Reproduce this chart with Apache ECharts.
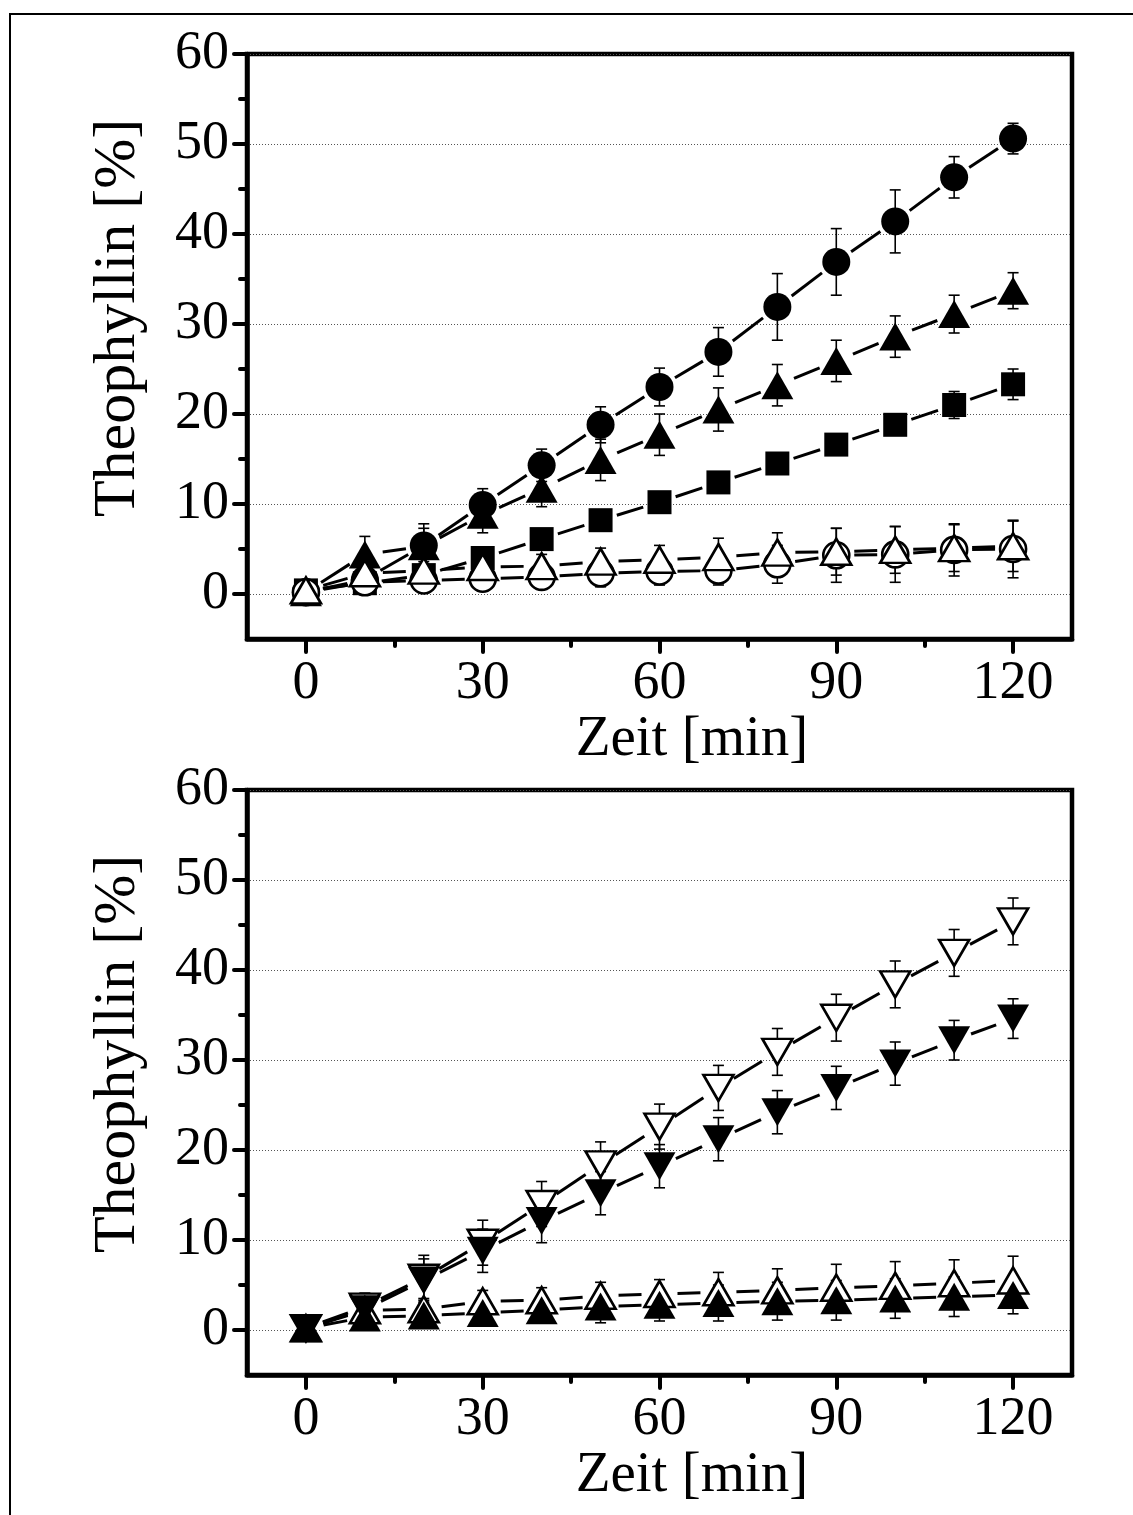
<!DOCTYPE html>
<html>
<head>
<meta charset="utf-8">
<script src="https://cdn.jsdelivr.net/npm/echarts@6/dist/echarts.min.js"></script>
<style>
html,body{margin:0;padding:0;background:#fff;}
#chart{width:1133px;height:1515px;}
</style>
</head>
<body>
<div id="chart"></div>
<script>
// ---------- data ----------
const minutes = [0, 10, 20, 30, 40, 50, 60, 70, 80, 90, 100, 110, 120];

// upper panel
const topCircleFilled      = [0.2, 1.6, 5.4, 9.9, 14.3, 18.8, 23.0, 26.9, 31.9, 36.9, 41.4, 46.3, 50.6];
const topCircleFilledErr   = [0.3, 1.0, 2.4, 1.8, 1.8, 2.0, 2.1, 2.7, 3.7, 3.7, 3.5, 2.3, 1.7];
const topTriangleFilled    = [0.2, 4.4, 5.3, 8.8, 11.7, 14.9, 17.7, 20.5, 23.2, 25.9, 28.6, 31.1, 33.7];
const topTriangleFilledErr = [0.3, 2.0, 2.0, 2.0, 2.0, 2.3, 2.3, 2.4, 2.3, 2.3, 2.3, 2.1, 2.0];
const topSquareFilled      = [0.4, 1.2, 2.1, 4.0, 6.1, 8.2, 10.2, 12.4, 14.5, 16.6, 18.8, 21.0, 23.3];
const topSquareFilledErr   = [0.3, 0.5, 0.5, 0.5, 0.5, 0.5, 0.5, 0.6, 0.7, 0.6, 0.8, 1.5, 1.7];
const topCircleOpen        = [0.2, 1.3, 1.5, 1.7, 1.9, 2.3, 2.5, 2.6, 3.3, 4.3, 4.4, 4.9, 5.0];
const topCircleOpenErr     = [0.5, 1.0, 1.0, 1.0, 1.2, 1.5, 1.5, 1.6, 2.1, 3.0, 3.1, 2.9, 3.2];
const topTriangleOpen      = [0.4, 2.3, 2.6, 3.0, 3.1, 3.6, 3.8, 4.1, 4.6, 4.7, 4.9, 5.1, 5.3];
const topTriangleOpenErr   = [0.5, 1.0, 1.0, 1.2, 1.3, 1.5, 1.6, 2.1, 2.2, 2.6, 2.6, 2.6, 2.8];

// lower panel
const botDownOpen        = [0.2, 2.6, 5.8, 9.7, 14.0, 18.4, 22.6, 26.9, 30.9, 34.7, 38.4, 41.9, 45.4];
const botDownOpenErr     = [0.3, 1.5, 2.5, 2.5, 2.5, 2.5, 2.5, 2.5, 2.6, 2.6, 2.6, 2.6, 2.6];
const botDownFilled      = [0.2, 2.3, 5.5, 8.8, 12.1, 15.2, 18.2, 21.2, 24.2, 26.9, 29.6, 32.2, 34.6];
const botDownFilledErr   = [0.3, 1.5, 2.4, 2.4, 2.4, 2.4, 2.4, 2.4, 2.4, 2.4, 2.4, 2.2, 2.2];
const botUpOpen          = [0.2, 2.2, 2.3, 3.2, 3.3, 3.8, 4.0, 4.2, 4.4, 4.7, 4.9, 5.2, 5.5];
const botUpOpenErr       = [0.3, 1.0, 1.2, 1.2, 1.4, 1.5, 1.6, 2.2, 2.4, 2.6, 2.7, 2.6, 2.7];
const botUpFilled        = [0.2, 1.4, 1.6, 1.9, 2.2, 2.6, 2.8, 3.0, 3.2, 3.3, 3.5, 3.7, 3.9];
const botUpFilledErr     = [0.3, 0.8, 1.0, 1.2, 1.4, 1.8, 1.8, 2.0, 2.1, 2.2, 2.2, 2.2, 2.1];

// axes / ticks
const xMajorTicks = [0, 30, 60, 90, 120];
const xMinorTicks = [15, 45, 75, 105];
const yMajorTicks = [0, 10, 20, 30, 40, 50, 60];
const yMinorTicks = [5, 15, 25, 35, 45, 55];
const xTitle = 'Zeit [min]';
const yTitle = 'Theophyllin [%]';

// ---------- chart ----------
const FONT = '"Liberation Serif", "Times New Roman", serif';
const chart = echarts.init(document.getElementById('chart'), null, {renderer: 'canvas'});

const grids = [
  {left: 247, top: 54, width: 825, height: 585},
  {left: 247, top: 790, width: 825, height: 585}
];

function mainX(gi) {
  return {
    type: 'value', gridIndex: gi, position: 'bottom', min: -10, max: 130, interval: 30,
    axisLine: {show: true, onZero: false, lineStyle: {color: '#000', width: 4.5}},
    axisTick: {show: true, inside: false, length: 13, customValues: xMajorTicks,
               lineStyle: {color: '#000', width: 4, cap: 'round'}},
    axisLabel: {show: true, customValues: xMajorTicks, margin: 18, color: '#000',
                fontSize: 54, fontFamily: FONT},
    splitLine: {show: false}
  };
}
function minorX(gi) {
  return {
    type: 'value', gridIndex: gi, position: 'bottom', min: -10, max: 130,
    axisLine: {show: false, onZero: false},
    axisTick: {show: true, inside: false, length: 7, customValues: xMinorTicks,
               lineStyle: {color: '#000', width: 4, cap: 'round'}},
    axisLabel: {show: false},
    splitLine: {show: false}
  };
}
function mainY(gi) {
  return {
    type: 'value', gridIndex: gi, position: 'left', min: -5, max: 60, interval: 10,
    axisLine: {show: true, onZero: false, lineStyle: {color: '#000', width: 4.5}},
    axisTick: {show: true, inside: false, length: 13, customValues: yMajorTicks,
               lineStyle: {color: '#000', width: 4, cap: 'round'}},
    axisLabel: {show: true, customValues: yMajorTicks, margin: 18, color: '#000',
                fontSize: 54, fontFamily: FONT},
    splitLine: {show: true, lineStyle: {color: '#555', width: 1, type: [1, 2]}}
  };
}
function minorY(gi) {
  return {
    type: 'value', gridIndex: gi, position: 'left', min: -5, max: 60,
    axisLine: {show: false, onZero: false},
    axisTick: {show: true, inside: false, length: 7, customValues: yMinorTicks,
               lineStyle: {color: '#000', width: 4, cap: 'round'}},
    axisLabel: {show: false},
    splitLine: {show: false}
  };
}

function segRender(gap) {
  return function (params, api) {
    const p0 = api.coord([api.value(0), api.value(1)]);
    const p1 = api.coord([api.value(2), api.value(3)]);
    const dx = p1[0] - p0[0], dy = p1[1] - p0[1];
    const L = Math.hypot(dx, dy);
    if (L <= 2 * gap + 1) return null;
    const ux = dx / L, uy = dy / L;
    return {
      type: 'line',
      shape: {x1: p0[0] + ux * gap, y1: p0[1] + uy * gap, x2: p1[0] - ux * gap, y2: p1[1] - uy * gap},
      style: {stroke: '#000', lineWidth: 3, lineCap: 'butt'}
    };
  };
}
function errRender(params, api) {
  const x = api.value(0), y = api.value(1), e = api.value(2);
  const t = api.coord([x, y + e]);
  const b = api.coord([x, y - e]);
  const cw = 5.5;
  const st = {stroke: '#000', lineWidth: 1.6};
  return {
    type: 'group',
    children: [
      {type: 'line', shape: {x1: t[0], y1: t[1], x2: b[0], y2: b[1]}, style: st},
      {type: 'line', shape: {x1: t[0] - cw, y1: t[1], x2: t[0] + cw, y2: t[1]}, style: st},
      {type: 'line', shape: {x1: b[0] - cw, y1: b[1], x2: b[0] + cw, y2: b[1]}, style: st}
    ]
  };
}

const series = [];
function addSet(gi, ys, errs, mk) {
  const ax = gi * 2;
  const segs = [];
  for (let i = 1; i < minutes.length; i++) segs.push([minutes[i - 1], ys[i - 1], minutes[i], ys[i]]);
  series.push({
    type: 'custom', xAxisIndex: ax, yAxisIndex: ax, renderItem: segRender(mk.gap),
    data: segs, encode: {x: [0, 2], y: [1, 3]}, silent: true, animation: false
  });
  series.push({
    type: 'scatter', xAxisIndex: ax, yAxisIndex: ax,
    data: minutes.map((m, i) => [m, ys[i]]),
    symbol: mk.symbol, symbolSize: mk.size, symbolRotate: mk.rotate || 0,
    itemStyle: mk.open ? {color: '#fff', borderColor: '#000', borderWidth: 2.6, opacity: 1}
                       : {color: '#000', opacity: 1},
    silent: true, animation: false, emphasis: {disabled: true}
  });
  series.push({
    type: 'custom', xAxisIndex: ax, yAxisIndex: ax, renderItem: errRender,
    data: minutes.map((m, i) => [m, ys[i], errs[i]]), encode: {x: 0, y: 1},
    silent: true, animation: false
  });
}

const SQ = {symbol: 'rect', size: 24, gap: 17};
const TRI = {symbol: 'triangle', size: [32, 28], gap: 18};
const CIR = {symbol: 'circle', size: 28, gap: 18};
const CIRO = {symbol: 'circle', size: 26, gap: 18, open: true};
const TRIO = {symbol: 'triangle', size: [30, 26], gap: 18, open: true};
const DTRI = {symbol: 'triangle', size: [32, 28], gap: 18, rotate: 180};
const DTRIO = {symbol: 'triangle', size: [30, 26], gap: 18, rotate: 180, open: true};

// upper panel
addSet(0, topSquareFilled, topSquareFilledErr, SQ);
addSet(0, topTriangleFilled, topTriangleFilledErr, TRI);
addSet(0, topCircleFilled, topCircleFilledErr, CIR);
addSet(0, topCircleOpen, topCircleOpenErr, CIRO);
addSet(0, topTriangleOpen, topTriangleOpenErr, TRIO);
// lower panel
addSet(1, botDownOpen, botDownOpenErr, DTRIO);
addSet(1, botUpOpen, botUpOpenErr, TRIO);
addSet(1, botUpFilled, botUpFilledErr, TRI);
addSet(1, botDownFilled, botDownFilledErr, DTRI);

function titleText(txt, x, y, size, rot) {
  return {
    type: 'text', x: x, y: y, rotation: rot || 0, silent: true,
    style: {text: txt, fontSize: size, fontFamily: FONT, fill: '#000', align: 'center', verticalAlign: 'middle'}
  };
}

const option = {
  backgroundColor: '#fff',
  animation: false,
  grid: grids.map(g => Object.assign({show: true, borderColor: '#000', borderWidth: 4.5,
                                      backgroundColor: 'transparent', containLabel: false}, g)),
  xAxis: [mainX(0), minorX(0), mainX(1), minorX(1)],
  yAxis: [mainY(0), minorY(0), mainY(1), minorY(1)],
  series: series,
  graphic: [
    {type: 'rect', silent: true, shape: {x: 10, y: 14, width: 1300, height: 1700},
     style: {fill: 'none', stroke: '#000', lineWidth: 2}},
    titleText(xTitle, 692, 740, 57),
    titleText(xTitle, 692, 1476, 57),
    titleText(yTitle, 118, 318, 60, Math.PI / 2),
    titleText(yTitle, 118, 1054, 60, Math.PI / 2)
  ]
};
chart.setOption(option);
</script>
</body>
</html>
